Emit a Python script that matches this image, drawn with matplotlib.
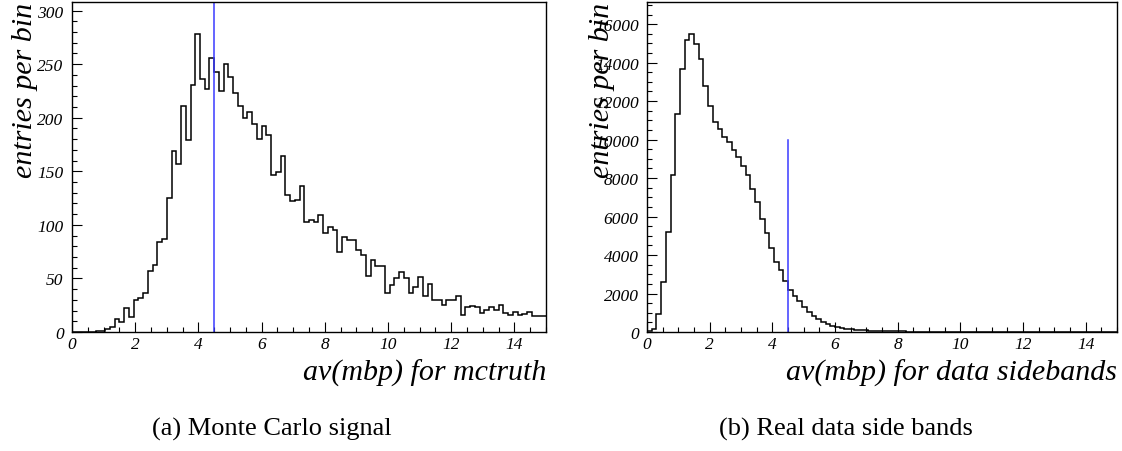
import numpy as np
import matplotlib
matplotlib.use("Agg")
import matplotlib.pyplot as plt
from matplotlib.ticker import MultipleLocator

# ── Data (entries per bin, 100 bins over 0..15) ──────────────────────────────
X_LO, X_HI, N_BINS = 0.0, 15.0, 100
CUT_VALUE = 4.5

mc_counts = [
    0, 0, 0, 0, 0, 1, 1, 3, 5, 12,
    9, 22, 14, 30, 32, 36, 57, 63, 84, 87,
    125, 169, 157, 211, 179, 231, 278, 236, 227, 256,
    243, 225, 250, 238, 223, 211, 200, 205, 194, 180,
    192, 184, 147, 149, 164, 128, 122, 123, 136, 103,
    105, 103, 109, 92, 98, 95, 75, 89, 86, 86,
    77, 72, 52, 67, 62, 62, 36, 44, 50, 56,
    50, 36, 42, 51, 34, 45, 30, 30, 25, 30,
    30, 34, 16, 23, 24, 23, 18, 21, 23, 21,
    25, 18, 16, 19, 16, 17, 19, 15, 15, 15,
]

data_counts = [
    60, 170, 950, 2590, 5180, 8170, 11320, 13690, 15170, 15470,
    14950, 14200, 12790, 11750, 10890, 10540, 10140, 9880, 9470, 9070,
    8640, 8170, 7430, 6770, 5880, 5130, 4350, 3660, 3200, 2630,
    2160, 1850, 1590, 1300, 1040, 820, 650, 510, 410, 330,
    260, 210, 170, 140, 115, 95, 80, 68, 58, 50,
    44, 38, 34, 30, 27, 24, 22, 20, 18, 16,
    15, 14, 13, 12, 11, 10, 9, 9, 8, 8,
    7, 7, 6, 6, 5, 5, 5, 4, 4, 4,
    3, 3, 3, 3, 3, 2, 2, 2, 2, 2,
    2, 2, 1, 1, 1, 1, 1, 1, 1, 1,
]

# ── Layout / styling per panel ────────────────────────────────────────────────
W, H = 1122, 452
panels = [
    dict(counts=mc_counts, ymax=308, ymajor=50, yminor=10, cut_top=None,
         xlabel="av(mbp) for mctruth", caption="(a) Monte Carlo signal",
         px=(72, 546), ylab_x=25, cap_x=272),
    dict(counts=data_counts, ymax=17150, ymajor=2000, yminor=500, cut_top=10000,
         xlabel="av(mbp) for data sidebands", caption="(b) Real data side bands",
         px=(647, 1117), ylab_x=602, cap_x=846),
]
AX_TOP, AX_BOT = 3, 333

plt.rcParams["font.family"] = ["Liberation Serif", "DejaVu Serif"]

fig = plt.figure(figsize=(W / 100, H / 100), dpi=100)
edges = np.linspace(X_LO, X_HI, N_BINS + 1)

for p in panels:
    x0, x1 = p["px"]
    rect = [x0 / W, 1 - AX_BOT / H, (x1 - x0) / W, (AX_BOT - AX_TOP) / H]
    ax = fig.add_axes(rect)
    ax.stairs(p["counts"], edges, color="black", linewidth=1.1, baseline=None)
    top = p["cut_top"] if p["cut_top"] is not None else p["ymax"]
    ax.plot([CUT_VALUE, CUT_VALUE], [0, top], color="#3a3aff", linewidth=1.1)

    ax.set_xlim(X_LO, X_HI)
    ax.set_ylim(0, p["ymax"])
    ax.xaxis.set_major_locator(MultipleLocator(2))
    ax.xaxis.set_minor_locator(MultipleLocator(0.5))
    ax.yaxis.set_major_locator(MultipleLocator(p["ymajor"]))
    ax.yaxis.set_minor_locator(MultipleLocator(p["yminor"]))
    ax.tick_params(which="both", direction="in", top=False, right=False,
                   width=0.8, colors="black")
    ax.tick_params(which="major", length=7)
    ax.tick_params(which="minor", length=3.5)
    ax.tick_params(axis="x", which="major", pad=3)
    ax.tick_params(axis="y", which="major", pad=6)
    for lab in ax.get_xticklabels() + ax.get_yticklabels():
        lab.set_fontstyle("italic")
        lab.set_fontsize(12.5)
    for s in ax.spines.values():
        s.set_linewidth(1.0)

    # axis titles, ROOT style: right / top aligned
    ax.text(1.0, (AX_BOT - 373) / (AX_BOT - AX_TOP), p["xlabel"],
            transform=ax.transAxes, ha="right", va="center",
            fontsize=21.6, fontstyle="italic")
    ax.text((p["ylab_x"] - x0) / (x1 - x0), 1.0, "entries per bin",
            transform=ax.transAxes, ha="center", va="top", rotation=90,
            fontsize=21.6, fontstyle="italic")

    fig.text(p["cap_x"] / W, 1 - 429 / H, p["caption"], ha="center",
             va="center", fontsize=19)

fig.savefig("out.png", dpi=100)
